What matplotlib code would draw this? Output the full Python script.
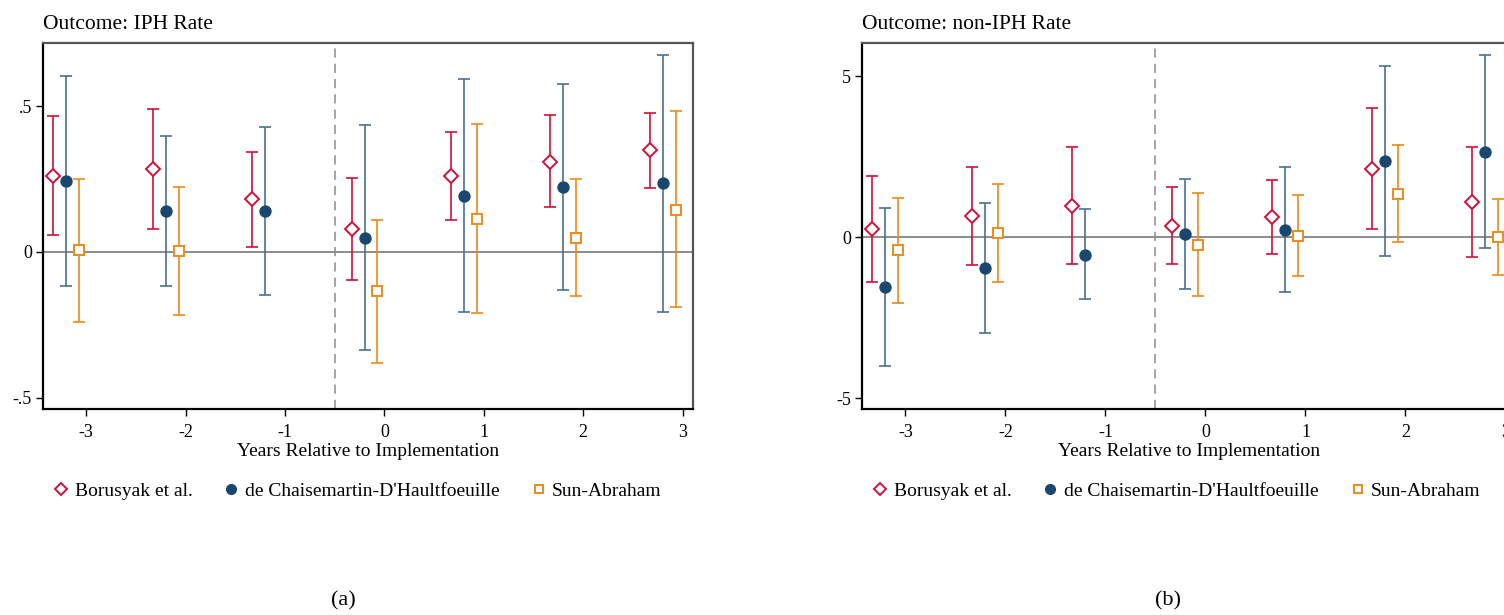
import numpy as np
import matplotlib.pyplot as plt
from matplotlib.lines import Line2D

plt.rcParams['font.family'] = ['Liberation Serif', 'DejaVu Serif']
plt.rcParams['font.size'] = 14

# event time
years = np.array([-3, -2, -1, 0, 1, 2, 3])

# --- IPH rate ---
iph_bor = [0.262, 0.284, 0.180, 0.079, 0.259, 0.310, 0.349]
iph_bor_lo = [0.058, 0.077, 0.016, -0.095, 0.110, 0.153, 0.220]
iph_bor_hi = [0.465, 0.492, 0.344, 0.254, 0.410, 0.470, 0.478]

iph_dcdh = [0.243, 0.140, 0.140, 0.049, 0.192, 0.223, 0.236]
iph_dcdh_lo = [-0.118, -0.117, -0.148, -0.336, -0.206, -0.129, -0.206]
iph_dcdh_hi = [0.603, 0.397, 0.428, 0.435, 0.592, 0.578, 0.677]

# Sun-Abraham has no estimate for the reference year (-1)
iph_sa = [0.005, 0.002, np.nan, -0.135, 0.113, 0.048, 0.145]
iph_sa_lo = [-0.240, -0.217, np.nan, -0.380, -0.211, -0.152, -0.189]
iph_sa_hi = [0.249, 0.224, np.nan, 0.111, 0.438, 0.249, 0.482]

# --- non-IPH rate ---
non_bor = [0.25, 0.65, 0.98, 0.36, 0.64, 2.13, 1.10]
non_bor_lo = [-1.38, -0.87, -0.82, -0.83, -0.51, 0.25, -0.61]
non_bor_hi = [1.89, 2.20, 2.81, 1.55, 1.78, 4.01, 2.81]

non_dcdh = [-1.55, -0.96, -0.54, 0.09, 0.24, 2.37, 2.66]
non_dcdh_lo = [-4.01, -2.97, -1.92, -1.62, -1.70, -0.59, -0.33]
non_dcdh_hi = [0.90, 1.07, 0.87, 1.82, 2.18, 5.33, 5.68]

non_sa = [-0.41, 0.12, np.nan, -0.24, 0.04, 1.36, 0.00]
non_sa_lo = [-2.04, -1.39, np.nan, -1.82, -1.19, -0.15, -1.17]
non_sa_hi = [1.21, 1.66, np.nan, 1.37, 1.30, 2.86, 1.18]

labels = ['Borusyak et al.', "de Chaisemartin-D'Haultfoeuille", 'Sun-Abraham']
RED, NAVY, ORANGE = '#d0103a', '#1a476f', '#ee8a1a'
NAVY_LINE = '#4a6f92'


def draw_est(ax, offset, est, lo, hi, color, lcolor, marker, ms, fill):
    est, lo, hi = (np.asarray(a, dtype=float) for a in (est, lo, hi))
    ok = ~np.isnan(est)
    x = years[ok] + offset
    ax.errorbar(x, est[ok], yerr=[est[ok] - lo[ok], hi[ok] - est[ok]], fmt='none',
                ecolor=lcolor, elinewidth=1.2, capsize=4, capthick=1.2, zorder=2)
    ax.plot(x, est[ok], linestyle='none', marker=marker, ms=ms, mew=1.4,
            mec=color, mfc=color if fill else 'white', zorder=3)


def panel(ax, title, series, ylim, yticks, yticklabels):
    ax.axhline(0, color='#8c8c8c', lw=1.4, zorder=1)
    ax.axvline(-0.5, color='#8c8c8c', lw=1.1, ls=(0, (6, 4)), zorder=1)
    bor, dcdh, sa = series
    draw_est(ax, -0.33, *bor, RED, RED, 'D', 7.5, False)
    draw_est(ax, -0.20, *dcdh, NAVY, NAVY_LINE, 'o', 7.5, True)
    draw_est(ax, -0.07, *sa, ORANGE, ORANGE, 's', 7, False)

    ax.set_xlim(-3.435, 3.105)
    ax.set_ylim(*ylim)
    ax.set_xticks(years)
    ax.set_xticklabels([str(y) for y in years])
    ax.set_yticks(yticks)
    ax.set_yticklabels(yticklabels)
    ax.tick_params(direction='out', length=5, width=1, color='black', labelsize=13)
    ax.tick_params(axis='x', pad=6)
    ax.tick_params(axis='y', pad=3)
    for side in ['left', 'bottom']:
        ax.spines[side].set_linewidth(1.6)
        ax.spines[side].set_color('black')
    for side in ['top', 'right']:
        ax.spines[side].set_linewidth(1.6)
        ax.spines[side].set_color('#555555')
    ax.set_xlabel('Years Relative to Implementation', labelpad=1.5)
    ax.text(0.0, 1.025, title, transform=ax.transAxes, ha='left', va='bottom', fontsize=15.5)

    handles = [
        Line2D([], [], ls='none', marker='D', ms=6.5, mew=1.4, mec=RED, mfc='white'),
        Line2D([], [], ls='none', marker='o', ms=7, mec=NAVY, mfc=NAVY),
        Line2D([], [], ls='none', marker='s', ms=6, mew=1.4, mec=ORANGE, mfc='white'),
    ]
    ax.legend(handles, labels, ncol=3, loc='upper left', bbox_to_anchor=(0.004, -0.18),
              frameon=False, handlelength=0.8, handletextpad=0.3, columnspacing=1.6,
              fontsize=14, borderaxespad=0)


fig = plt.figure(figsize=(15.04, 6.15), dpi=100)
ax1 = fig.add_axes([43 / 1504, 1 - 409 / 615, 650 / 1504, 366 / 615])
ax2 = fig.add_axes([862 / 1504, 1 - 409 / 615, 654 / 1504, 366 / 615])

panel(ax1, 'Outcome: IPH Rate',
      [(iph_bor, iph_bor_lo, iph_bor_hi),
       (iph_dcdh, iph_dcdh_lo, iph_dcdh_hi),
       (iph_sa, iph_sa_lo, iph_sa_hi)],
      (-0.539, 0.717), [-0.5, 0, 0.5], ['-.5', '0', '.5'])
panel(ax2, 'Outcome: non-IPH Rate',
      [(non_bor, non_bor_lo, non_bor_hi),
       (non_dcdh, non_dcdh_lo, non_dcdh_hi),
       (non_sa, non_sa_lo, non_sa_hi)],
      (-5.34, 6.04), [-5, 0, 5], ['-5', '0', '5'])

fig.text(343 / 1504, 1 - 601 / 615, '(a)', ha='center', va='center', fontsize=16)
fig.text(1168 / 1504, 1 - 601 / 615, '(b)', ha='center', va='center', fontsize=16)

fig.savefig('out.png', dpi=100)
